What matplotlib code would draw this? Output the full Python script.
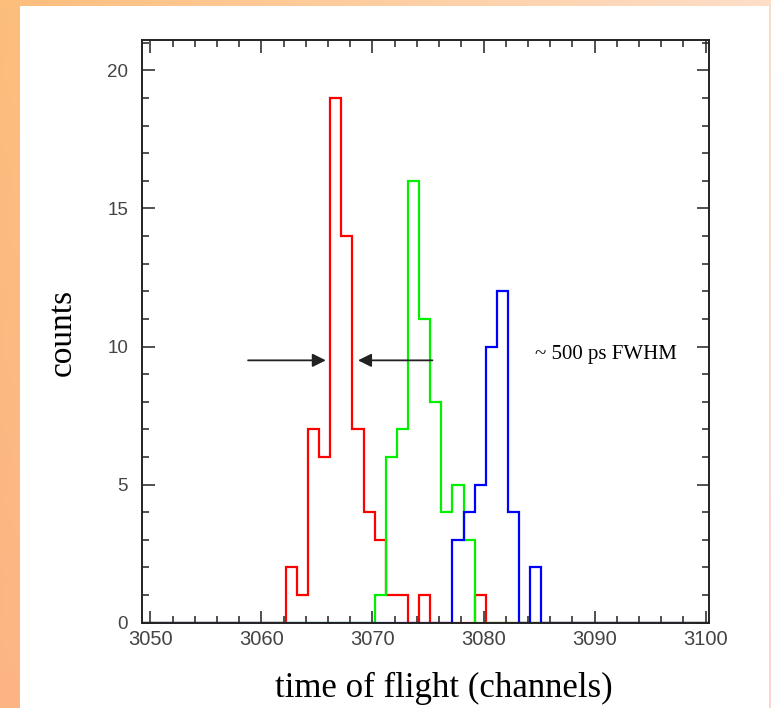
import numpy as np
import matplotlib
matplotlib.use('Agg')
import matplotlib.pyplot as plt
from matplotlib.patches import Rectangle
from matplotlib.ticker import MultipleLocator

# counts per TOF channel for the three runs
red_channels = [3062, 3063, 3064, 3065, 3066, 3067, 3068, 3069, 3070, 3071, 3072, 3073, 3074, 3075, 3076, 3077, 3078, 3079]
red_counts = [2, 1, 7, 6, 19, 14, 7, 4, 3, 1, 1, 0, 1, 0, 0, 0, 0, 1]

green_channels = [3070, 3071, 3072, 3073, 3074, 3075, 3076, 3077, 3078]
green_counts = [1, 6, 7, 16, 11, 8, 4, 5, 3]

blue_channels = [3077, 3078, 3079, 3080, 3081, 3082, 3083, 3084]
blue_counts = [3, 4, 5, 10, 12, 4, 0, 2]

x_ticks = [3050, 3060, 3070, 3080, 3090, 3100]
y_ticks = [0, 5, 10, 15, 20]

all_channels = np.arange(3049, 3101)
bin_offset = 0.2


def full_hist(chans, counts):
    vals = np.zeros(len(all_channels))
    for c, n in zip(chans, counts):
        vals[c - all_channels[0]] = n
    return vals


edges = np.append(all_channels, all_channels[-1] + 1) + bin_offset

W, H = 771, 708
fig = plt.figure(figsize=(W / 100, H / 100), dpi=100)

# orange border behind the white slide panel
bg = fig.add_axes([0, 0, 1, 1])
bg.set_axis_off()
tl = np.array([253, 190, 124]) / 255
tr = np.array([253, 222, 200]) / 255
bl = np.array([252, 180, 132]) / 255
u = np.linspace(0, 1, 200)[None, :, None]
v = np.linspace(0, 1, 200)[:, None, None]
grad = tl + (tr - tl) * u + (bl - tl) * v
grad = np.clip(grad, 0, 1)
bg.imshow(grad, extent=[0, W, H, 0], aspect='auto')
bg.add_patch(Rectangle((20, 6), 749, H - 6, facecolor='white', edgecolor='none'))
bg.set_xlim(0, W)
bg.set_ylim(H, 0)

ax = fig.add_axes([142 / W, (H - 622.7) / H, (709 - 142) / W, (622.7 - 40) / H])
ax.set_facecolor('none')

lw = 1.6
ax.stairs(full_hist(red_channels, red_counts), edges, color='#ff0000', lw=lw, baseline=None)
ax.stairs(full_hist(green_channels, green_counts), edges, color='#00f000', lw=lw, baseline=None)
ax.stairs(full_hist(blue_channels, blue_counts), edges, color='#0000ff', lw=lw, baseline=None)

ax.set_xlim(3049.25, 3100.3)
ax.set_ylim(0, 21.1)

ax.set_xticks(x_ticks)
ax.set_yticks(y_ticks)
ax.xaxis.set_minor_locator(MultipleLocator(2))
ax.yaxis.set_minor_locator(MultipleLocator(1))
ax.tick_params(which='both', direction='in', top=True, right=True, width=1.1, color='#222222')
ax.tick_params(which='major', length=9)
ax.tick_params(which='minor', length=5)
ax.tick_params(axis='both', labelsize=13.5, labelcolor='#444444')
ax.tick_params(axis='x', labelsize=14.5, pad=5)
ax.tick_params(axis='y', pad=10)
for lab in ax.get_xticklabels() + ax.get_yticklabels():
    lab.set_family('Liberation Sans')
for sp in ax.spines.values():
    sp.set_linewidth(1.4)
    sp.set_color('#222222')

# FWHM arrows
arrow_y = 9.5
ax.annotate('', xy=(3065.8, arrow_y), xytext=(3058.8, arrow_y),
            arrowprops=dict(arrowstyle='-|>', color='#222222', lw=1.3, mutation_scale=20, shrinkA=0, shrinkB=0))
ax.annotate('', xy=(3068.7, arrow_y), xytext=(3075.4, arrow_y),
            arrowprops=dict(arrowstyle='-|>', color='#222222', lw=1.3, mutation_scale=20, shrinkA=0, shrinkB=0))
ax.text(3084.6, 9.7, '~ 500 ps FWHM', family='Liberation Serif', fontsize=15, va='center', ha='left')

fig.text(62 / W, 1 - 332 / H, 'counts', family='Liberation Serif', fontsize=24,
         rotation=90, ha='center', va='center')
fig.text(444 / W, 1 - 688 / H, 'time of flight (channels)', family='Liberation Serif',
         fontsize=25, ha='center', va='center')

fig.savefig('out.png', dpi=100)
